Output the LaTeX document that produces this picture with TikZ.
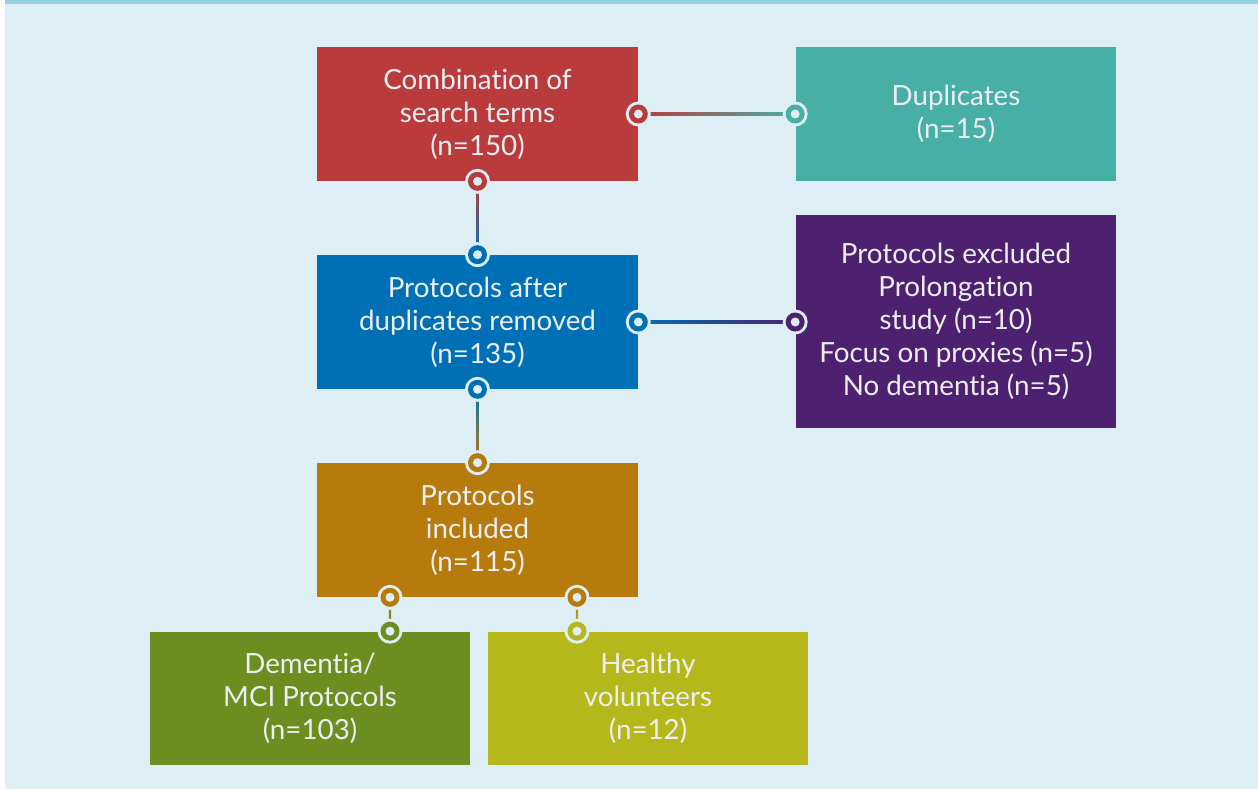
\documentclass[tikz,border=0pt]{standalone}
\usepackage{fontspec}
\setmainfont{Lato}[Ligatures={NoCommon}]
\definecolor{bgblue}{RGB}{221,238,245}
\definecolor{topbar}{RGB}{147,209,229}
\definecolor{boxred}{RGB}{185,59,60}
\definecolor{boxteal}{RGB}{71,175,165}
\definecolor{boxblue}{RGB}{0,112,182}
\definecolor{boxpurple}{RGB}{77,33,112}
\definecolor{boxgold}{RGB}{182,122,13}
\definecolor{boxolive}{RGB}{106,142,31}
\definecolor{boxlime}{RGB}{181,184,26}
\definecolor{boxtext}{RGB}{236,239,242}
\usetikzlibrary{positioning,calc}

\tikzset{
  box/.style={fill=#1, text=boxtext, align=center, minimum width=6.42cm, minimum height=2.68cm,
    inner sep=0pt, font=\fontsize{15.8}{18.8}\selectfont},
}
% ring at the end of a connector
\newcommand{\linkdot}[2]{%
  \fill[bgblue] (#1) circle (12.5);
  \fill[#2] (#1) circle (9.5);
  \fill[bgblue] (#1) circle (4.5);
}

\begin{document}
\begin{tikzpicture}[x=0.02cm, y=-0.02cm]
    \useasboundingbox (0,0) rectangle (1258,791);
    % Background
    \fill[bgblue] (5,4) rectangle (1258,789);
    \fill[topbar] (5,0) rectangle (1258,4);

    % Search
    \node[box=boxred] (comb) at (477.5,114) {Combination of\\search terms\\(n=150)};
    \node[box=boxteal] (dup) at (956,114) {Duplicates\\(n=15)};

    % Screening
    \node[box=boxblue] (after) at (477.5,322) {Protocols after\\duplicates removed\\(n=135)};
    \node[box=boxpurple, minimum height=4.26cm] (excl) at (956,321.5) {Protocols excluded\\Prolongation\\study (n=10)\\Focus on proxies (n=5)\\No dementia (n=5)};

    % Included
    \node[box=boxgold] (incl) at (477.5,530) {Protocols\\included\\(n=115)};
    \node[box=boxolive] (dem) at (310,698.5) {Dementia/\\MCI Protocols\\(n=103)};
    \node[box=boxlime] (healthy) at (648,698.5) {Healthy\\volunteers\\(n=12)};

    % Connections
    \coordinate (demtop) at ($(dem.north)+(80,0)$);
    \coordinate (demsrc) at (demtop |- incl.south);
    \coordinate (heatop) at ($(healthy.north)+(-71,0)$);
    \coordinate (heasrc) at (heatop |- incl.south);
    \shade[left color=boxred, right color=boxteal] ($(comb.east)+(0,-1.2)$) rectangle ($(dup.west)+(0,1.2)$);
    \shade[left color=boxblue, right color=boxpurple] ($(after.east)+(0,-1.2)$) rectangle ($(excl.west |- after.east)+(0,1.2)$);
    \shade[top color=boxred, bottom color=boxblue] ($(comb.south)+(-1.2,0)$) rectangle ($(after.north)+(1.2,0)$);
    \shade[top color=boxblue, bottom color=boxgold] ($(after.south)+(-1.2,0)$) rectangle ($(incl.north)+(1.2,0)$);
    \shade[top color=boxgold, bottom color=boxolive] ($(demsrc)+(-1.2,0)$) rectangle ($(demtop)+(1.2,0)$);
    \shade[top color=boxgold, bottom color=boxlime] ($(heasrc)+(-1.2,0)$) rectangle ($(heatop)+(1.2,0)$);

    \linkdot{comb.east}{boxred}
    \linkdot{dup.west}{boxteal}
    \linkdot{after.east}{boxblue}
    \linkdot{excl.west |- after.east}{boxpurple}
    \linkdot{comb.south}{boxred}
    \linkdot{after.north}{boxblue}
    \linkdot{after.south}{boxblue}
    \linkdot{incl.north}{boxgold}
    \linkdot{demsrc}{boxgold}
    \linkdot{demtop}{boxolive}
    \linkdot{heasrc}{boxgold}
    \linkdot{heatop}{boxlime}
\end{tikzpicture}
\end{document}
